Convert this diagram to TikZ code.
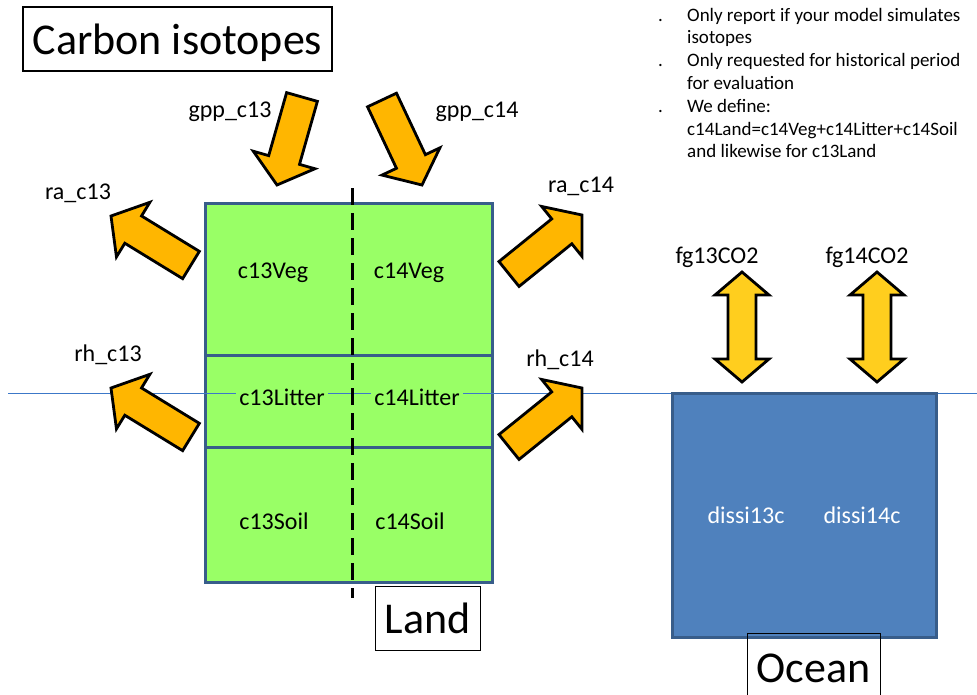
\documentclass[tikz,border=0pt]{standalone}
\usepackage{fontspec}
\setmainfont{Carlito}
\usetikzlibrary{calc}

\definecolor{landgreen}{RGB}{153,255,102}
\definecolor{boxedge}{RGB}{56,93,138}
\definecolor{oceanblue}{RGB}{79,129,189}
\definecolor{fluxorange}{RGB}{255,182,0}
\definecolor{gasyellow}{RGB}{255,206,30}
\definecolor{surfline}{RGB}{60,120,200}

\tikzset{
  landcell/.style={draw=boxedge, line width=3pt, fill=landgreen, minimum width=287pt, inner sep=0pt},
  oceanbox/.style={draw=boxedge, line width=3pt, fill=oceanblue, inner sep=0pt},
  celltext/.style={fill=landgreen, inner sep=3pt, text depth=0pt, font=\fontsize{24}{28}\selectfont},
  fluxtext/.style={inner sep=0pt, text depth=0pt, font=\fontsize{24}{28}\selectfont},
  titlebox/.style={draw, line width=1.2pt, inner sep=0pt, text depth=0pt, font=\fontsize{44}{52}\selectfont},
  notes/.style={inner sep=0pt, font=\fontsize{19}{22.8}\selectfont},
  divider/.style={line width=3pt, dash pattern=on 17pt off 8pt},
  fluxarrow/.style={draw=black, line width=2.8pt, fill=fluxorange, line join=miter},
  gasarrow/.style={draw=black, line width=2.8pt, fill=gasyellow, line join=miter},
}

% flecha gruesa: estilo, cola, punta
\newcommand{\blockarrow}[3]{%
  \coordinate (ba) at ($(#3)!26pt!(#2)$);
  \draw[#1] ($(#2)!16pt!90:(#3)$) -- ($(ba)!16pt!90:(#3)$) -- ($(ba)!32pt!90:(#3)$) -- (#3)
    -- ($(ba)!32pt!-90:(#3)$) -- ($(ba)!16pt!-90:(#3)$) -- ($(#2)!16pt!-90:(#3)$) -- cycle;
}
% flecha doble: estilo, extremo A, extremo B
\newcommand{\doublearrow}[3]{%
  \coordinate (daA) at ($(#2)!23pt!(#3)$);
  \coordinate (daB) at ($(#3)!23pt!(#2)$);
  \draw[#1] (#2) -- ($(daA)!27pt!90:(#3)$) -- ($(daA)!14pt!90:(#3)$) -- ($(daB)!14pt!-90:(#2)$)
    -- ($(daB)!27pt!-90:(#2)$) -- (#3) -- ($(daB)!27pt!90:(#2)$) -- ($(daB)!14pt!90:(#2)$)
    -- ($(daA)!14pt!-90:(#3)$) -- ($(daA)!27pt!-90:(#3)$) -- cycle;
}

\begin{document}
\begin{tikzpicture}[x=1pt,y=-1pt]
        \useasboundingbox (0,0) rectangle (977,694);

        % Titulo
        \node[titlebox, minimum width=309pt, minimum height=64pt] (title) at (177.5,39) {Carbon isotopes};

        % Notas
        \node[notes, anchor=north west] (notes) at (658,5) {%
          \begin{tabular}{@{}p{29pt}@{}l@{}}
          . & Only report if your model simulates\\
            & isotopes\\
          . & Only requested for historical period\\
            & for evaluation\\
          . & We define:\\
            & c14Land=c14Veg+c14Litter+c14Soil\\
            & and likewise for c13Land
          \end{tabular}};

        % Cajas de tierra
        \node[landcell, minimum height=152pt] (veg) at (348.5,279) {};
        \node[landcell, minimum height=92pt] (litter) at (348.5,401) {};
        \node[landcell, minimum height=135pt] (soil) at (348.5,514.5) {};

        % Linea de superficie
        \coordinate (surfW) at (8,393);
        \coordinate (surfE) at (977,393);
        \draw[surfline, line width=1pt] (surfW) -- (surfE);

        % Textos de las celdas
        \node[celltext] (c13veg) at (273,271) {c13Veg};
        \node[celltext] (c14veg) at (409,271) {c14Veg};
        \node[celltext] (c13litter) at (282,397) {c13Litter};
        \node[celltext] (c14litter) at (417,397) {c14Litter};
        \node[celltext] (c13soil) at (274,521) {c13Soil};
        \node[celltext] (c14soil) at (410,521) {c14Soil};

        % Separador 13/14
        \coordinate (divtop) at (352,188);
        \coordinate (divbot) at (352,598);
        \draw[divider] (divtop) -- (divbot);

        \node[titlebox, line width=1pt, minimum width=105pt, minimum height=64pt] (landlabel) at (427.5,618) {Land};

        % Oceano
        \node[oceanbox, minimum width=264pt, minimum height=244pt] (ocean) at (804,515) {};
        \node[fluxtext, text=white] (dissi13) at (746,515) {dissi13c};
        \node[fluxtext, text=white] (dissi14) at (862,515) {dissi14c};
        \node[titlebox, line width=1pt, minimum width=133pt, minimum height=70pt] (oceanlabel) at (813.5,668) {Ocean};

        % Flujos de tierra
        \coordinate (gpp13tail) at (302,97);  \coordinate (gpp13tip) at (277,185);
        \coordinate (gpp14tail) at (382,100); \coordinate (gpp14tip) at (422,185);
        \coordinate (ra13tail) at (191,265);  \coordinate (ra13tip) at (111,216);
        \coordinate (rh13tail) at (191,437);  \coordinate (rh13tip) at (111,388);
        \coordinate (ra14tail) at (509,274);  \coordinate (ra14tip) at (582,215);
        \coordinate (rh14tail) at (509,447);  \coordinate (rh14tip) at (582,388);
        \blockarrow{fluxarrow}{gpp13tail}{gpp13tip}
        \blockarrow{fluxarrow}{gpp14tail}{gpp14tip}
        \blockarrow{fluxarrow}{ra13tail}{ra13tip}
        \blockarrow{fluxarrow}{rh13tail}{rh13tip}
        \blockarrow{fluxarrow}{ra14tail}{ra14tip}
        \blockarrow{fluxarrow}{rh14tail}{rh14tip}

        \node[fluxtext] (gpp13) at (230,110) {gpp\_c13};
        \node[fluxtext] (gpp14) at (477,110) {gpp\_c14};
        \node[fluxtext] (ra13) at (78,192) {ra\_c13};
        \node[fluxtext] (rh13) at (108,353) {rh\_c13};
        \node[fluxtext] (ra14) at (581,185) {ra\_c14};
        \node[fluxtext] (rh14) at (560,358) {rh\_c14};

        % Flujos aire-mar
        \coordinate (fg13top) at (742,272); \coordinate (fg13bot) at (742,382);
        \coordinate (fg14top) at (877,272); \coordinate (fg14bot) at (877,382);
        \doublearrow{gasarrow}{fg13top}{fg13bot}
        \doublearrow{gasarrow}{fg14top}{fg14bot}
        \node[fluxtext] (fg13) at (717,255) {fg13CO2};
        \node[fluxtext] (fg14) at (867,255) {fg14CO2};
\end{tikzpicture}
\end{document}
